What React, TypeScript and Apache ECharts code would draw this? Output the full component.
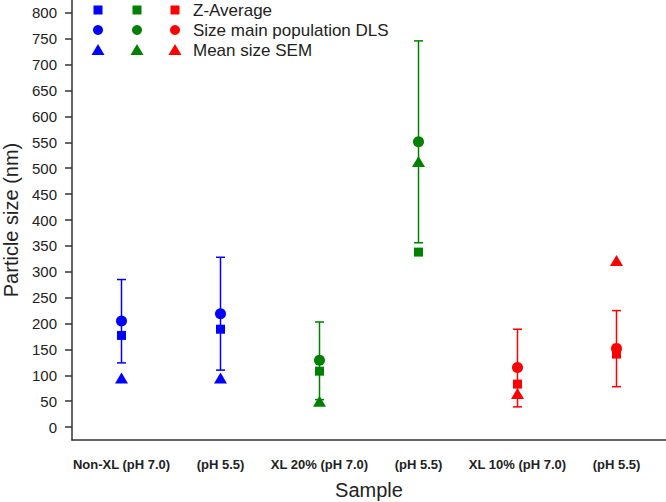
import React, { useEffect, useRef } from "react";
import * as echarts from "echarts";

const categories = ["Non-XL (pH 7.0)", "(pH 5.5)", "XL 20% (pH 7.0)", "(pH 5.5)", "XL 10% (pH 7.0)", "(pH 5.5)"];
const zAverage = [177, 189, 108, 338, 83, 141];
const dlsSize = [205, 219, 129, 551, 115, 152];
const semSize = [95, 95, 50, 513, 65, 322];
const errLow = [124, 110, 53, 356, 39, 78];
const errHigh = [285, 328, 203, 746, 189, 225];
const yTicks = [0, 50, 100, 150, 200, 250, 300, 350, 400, 450, 500, 550, 600, 650, 700, 750, 800];
const legendNames = ["Z-Average", "Size main population DLS", "Mean size SEM"];
const groupColors = ["#0000ff", "#008000", "#ff0000"];
const pointColors = ["#0000ff", "#0000ff", "#008000", "#008000", "#ff0000", "#ff0000"];

const FONT = "'Liberation Sans', Arial, sans-serif";
const TEXT = "#222";

function buildLegend() {
  const els: any[] = [];
  const cols = [98, 137, 175];
  const rows = [10, 30, 50];
  rows.forEach((y, r) => {
    cols.forEach((x, c) => {
      const color = groupColors[c];
      if (r === 0) {
        els.push({ type: "rect", shape: { x: x - 4.5, y: y - 4.5, width: 9, height: 9 }, style: { fill: color } });
      } else if (r === 1) {
        els.push({ type: "circle", shape: { cx: x, cy: y, r: 5 }, style: { fill: color } });
      } else {
        els.push({ type: "polygon", shape: { points: [[x, y - 6], [x + 6.5, y + 5], [x - 6.5, y + 5]] }, style: { fill: color } });
      }
    });
    els.push({
      type: "text",
      x: 193,
      y: y,
      style: { text: legendNames[r], fill: TEXT, font: `17px ${FONT}`, verticalAlign: "middle", align: "left" },
    });
  });
  return els;
}

export default function App() {
  const ref = useRef<HTMLDivElement>(null);
  useEffect(() => {
    if (!ref.current) return;
    const chart = echarts.init(ref.current, null, { renderer: "svg" });
    const colorFn = (p: any) => pointColors[p.dataIndex];
    chart.setOption({
      animation: false,
      backgroundColor: "#fff",
      grid: { left: 72, right: 0, top: 0, bottom: 62, containLabel: false, outerBoundsMode: "none" },
      xAxis: {
        type: "category",
        data: categories,
        boundaryGap: true,
        name: "Sample",
        nameLocation: "middle",
        nameGap: 40,
        nameTextStyle: { fontSize: 20, color: TEXT, fontFamily: FONT },
        axisLine: { onZero: false, lineStyle: { color: "#333", width: 1.5 } },
        axisTick: { alignWithLabel: true, length: 10, lineStyle: { color: "#333", width: 1.5 } },
        axisLabel: { fontSize: 13, fontWeight: "bold", color: TEXT, fontFamily: FONT, margin: 18, interval: 0 },
        splitLine: { show: false },
      },
      yAxis: {
        type: "value",
        min: -25,
        max: 825,
        name: "Particle size (nm)",
        nameLocation: "middle",
        nameGap: 50,
        nameTextStyle: { fontSize: 20, color: TEXT, fontFamily: FONT },
        axisLine: { show: true, lineStyle: { color: "#333", width: 1.5 } },
        axisTick: { show: true, length: 7, customValues: yTicks, lineStyle: { color: "#333", width: 1.5 } },
        axisLabel: { fontSize: 15, color: TEXT, fontFamily: FONT, margin: 15, customValues: yTicks },
        splitLine: { show: false },
      },
      graphic: buildLegend(),
      series: [
        {
          type: "custom",
          name: "error",
          data: categories.map((_, i) => [i, errLow[i], errHigh[i]]),
          renderItem: (params: any, api: any) => {
            const x = api.value(0);
            const lo = api.coord([x, api.value(1)]);
            const hi = api.coord([x, api.value(2)]);
            const color = pointColors[params.dataIndex];
            const hw = 4.5;
            const st = { stroke: color, lineWidth: 1.5 };
            return {
              type: "group",
              children: [
                { type: "line", shape: { x1: lo[0], y1: lo[1], x2: hi[0], y2: hi[1] }, style: st },
                { type: "line", shape: { x1: lo[0] - hw, y1: lo[1], x2: lo[0] + hw, y2: lo[1] }, style: st },
                { type: "line", shape: { x1: hi[0] - hw, y1: hi[1], x2: hi[0] + hw, y2: hi[1] }, style: st },
              ],
            };
          },
          z: 1,
        },
        {
          type: "scatter",
          name: "Z-Average",
          data: zAverage,
          symbol: "rect",
          symbolSize: 9,
          itemStyle: { color: colorFn, opacity: 1 },
          z: 3,
        },
        {
          type: "scatter",
          name: "Size main population DLS",
          data: dlsSize,
          symbol: "circle",
          symbolSize: 11,
          itemStyle: { color: colorFn, opacity: 1 },
          z: 3,
        },
        {
          type: "scatter",
          name: "Mean size SEM",
          data: semSize,
          symbol: "triangle",
          symbolSize: [13, 11],
          itemStyle: { color: colorFn, opacity: 1 },
          z: 3,
        },
      ],
    });
    return () => chart.dispose();
  }, []);
  return <div ref={ref} style={{ width: 666, height: 502, position: "fixed", left: 0, top: 0 }} />;
}
